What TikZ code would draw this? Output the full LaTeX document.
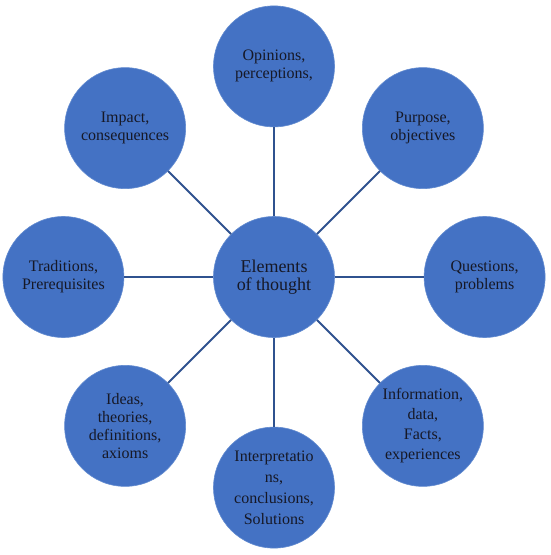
\documentclass[tikz,border=0pt]{standalone}
\usepackage{fontspec}
\setmainfont{Liberation Serif}
\usetikzlibrary{positioning}
\definecolor{circleblue}{RGB}{68,114,196}
\definecolor{circleedge}{RGB}{100,140,208}
\definecolor{spokeblue}{RGB}{47,82,143}
\definecolor{labelink}{RGB}{22,24,38}
\tikzset{
  hub/.style={circle, fill=circleblue, draw=circleedge, line width=0.6pt, minimum size=121pt, inner sep=0pt, align=center, text=labelink, font=\fontsize{18}{18.5}\selectfont},
  idea/.style={circle, fill=circleblue, draw=circleedge, line width=0.6pt, minimum size=121pt, inner sep=0pt, align=center, text=labelink, font=\fontsize{16}{18}\selectfont},
  spoke/.style={draw=spokeblue, line width=1.8pt}
}
\begin{document}
\begin{tikzpicture}[x=1pt, y=1pt, node distance=89pt and 89pt]
\useasboundingbox (-274,-278) rectangle (276,277);
\node[hub] (core) {Elements\\of thought};
\node[idea, above=of core] (opin) {Opinions,\\perceptions,};
\node[idea, above right=62.9pt and 62.9pt of core] (purp) {Purpose,\\objectives};
\node[idea, right=of core] (ques) {Questions,\\problems};
\node[idea, below right=62.9pt and 62.9pt of core] (info) {Information,\\[2pt]data,\\[2pt]Facts,\\[2pt]experiences};
\node[idea, below=of core] (intp) {Interpretatio\\[3pt]ns,\\[3pt]conclusions,\\[3pt]Solutions};
\node[idea, below left=62.9pt and 62.9pt of core] (idea) {Ideas,\\theories,\\definitions,\\axioms};
\node[idea, left=of core] (trad) {Traditions,\\Prerequisites};
\node[idea, above left=62.9pt and 62.9pt of core] (impc) {Impact,\\consequences};
\draw[spoke] (core) -- (opin); \draw[spoke] (core) -- (purp);
\draw[spoke] (core) -- (ques); \draw[spoke] (core) -- (info);
\draw[spoke] (core) -- (intp); \draw[spoke] (core) -- (idea);
\draw[spoke] (core) -- (trad); \draw[spoke] (core) -- (impc);
\end{tikzpicture}
\end{document}
